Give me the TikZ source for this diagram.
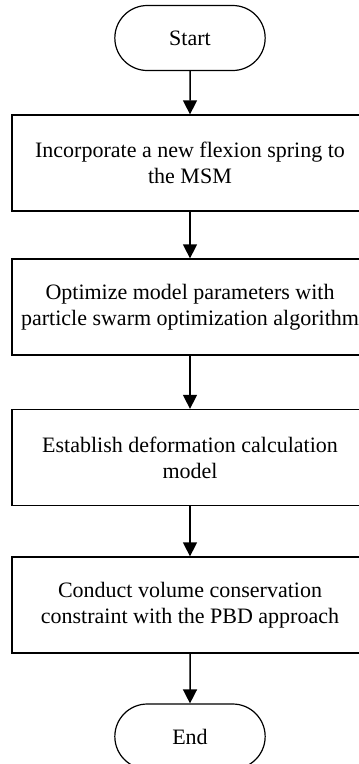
\documentclass[tikz,border=0pt]{standalone}
\usepackage{fontspec}
\setmainfont{Liberation Serif}
\usepackage{tikz}
\usetikzlibrary{arrows.meta,shapes.misc}

\begin{document}
\begin{tikzpicture}[x=1pt,y=1pt,
  term/.style={draw,line width=1.2pt,rounded rectangle,minimum width=157pt,minimum height=65pt,font=\fontsize{22}{26}\selectfont},
  stepbox/.style={draw,line width=1.3pt,minimum width=356pt,minimum height=96pt,align=center,font=\fontsize{22}{26}\selectfont},
  flow/.style={line width=1.5pt,-{Triangle[width=14pt,length=14pt]}}]
\useasboundingbox (0,0) rectangle (359,-764);
\clip (0,0) rectangle (359,-764);
\node[term] (start) at (190,-38) {Start};
\node[stepbox] (spring) at (190,-163) {Incorporate a new flexion spring to\\the MSM};
\node[stepbox] (pso) at (190,-307) {Optimize model parameters with\\particle swarm optimization algorithm};
\node[stepbox] (deform) at (190,-457.5) {Establish deformation calculation\\model};
\node[stepbox] (pbd) at (190,-605) {Conduct volume conservation\\constraint with the PBD approach};
\node[term] (end) at (190,-736.5) {End};
\draw[flow] (start) -- (spring);
\draw[flow] (spring) -- (pso);
\draw[flow] (pso) -- (deform);
\draw[flow] (deform) -- (pbd);
\draw[flow] (pbd) -- (end);
\end{tikzpicture}
\end{document}
